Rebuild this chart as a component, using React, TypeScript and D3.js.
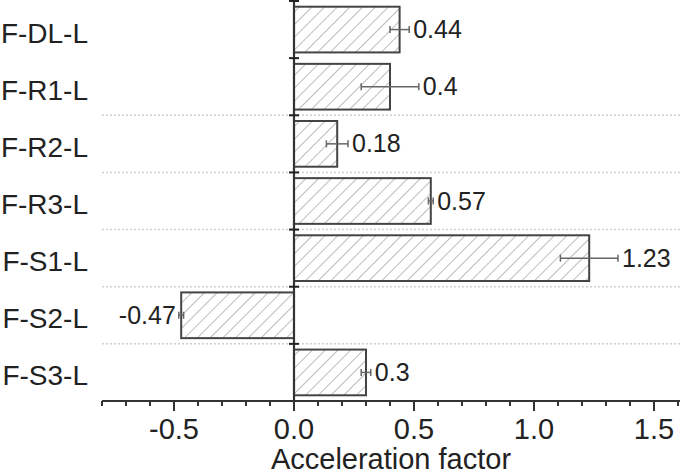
import React from "react";
import * as d3 from "d3";

const categories = ["F-DL-L", "F-R1-L", "F-R2-L", "F-R3-L", "F-S1-L", "F-S2-L", "F-S3-L"];
const values = [0.44, 0.4, 0.18, 0.57, 1.23, -0.47, 0.3];
const errors = [0.04, 0.12, 0.045, 0.01, 0.12, 0.01, 0.02];
const valueLabels = ["0.44", "0.4", "0.18", "0.57", "1.23", "-0.47", "0.3"];
const majorTicks = [-0.5, 0.0, 0.5, 1.0, 1.5];
const majorTickLabels = ["-0.5", "0.0", "0.5", "1.0", "1.5"];
const xTitle = "Acceleration factor";

const W = 680;
const H = 476;
const FONT = "'Liberation Sans', Arial, sans-serif";

export default function App() {
  const x = d3.scaleLinear().domain([-0.8, 1.6]).range([102, 678]);
  const y = d3.scaleBand<string>().domain(categories).range([1, 401]).paddingInner(0.2).paddingOuter(0.1);
  const step = y.step();
  const bandTop = (i: number) => 1 + i * step;
  const boundaries = d3.range(categories.length + 1).map(bandTop);
  const minorTicks = d3.range(-8, 17).map((k) => k / 10);
  const x0 = x(0);
  const axisY = 401;

  return (
    <svg
      width={W}
      height={H}
      style={{ position: "absolute", left: 0, top: 0, background: "#fff" }}
      fontFamily={FONT}
    >
      <defs>
        <pattern id="hatch" patternUnits="userSpaceOnUse" width={9} height={9} patternTransform="rotate(45)">
          <rect width={9} height={9} fill="#fff" />
          <line x1={0} y1={0} x2={0} y2={9} stroke="#9a9a9a" strokeWidth={1.3} />
        </pattern>
      </defs>

      {/* dotted gridlines */}
      {boundaries.slice(2, categories.length).map((b, i) => (
        <line key={"g" + i} x1={102} x2={680} y1={b} y2={b} stroke="#d0d0d0" strokeWidth={1.5} strokeDasharray="2,2" />
      ))}

      {/* bars */}
      {categories.map((c, i) => {
        const v = values[i];
        const x1 = Math.min(x(0), x(v));
        const w = Math.abs(x(v) - x(0));
        return (
          <rect key={"b" + c} x={x1} y={y(c)!} width={w} height={y.bandwidth()} fill="url(#hatch)" stroke="#444" strokeWidth={2} />
        );
      })}

      {/* error bars */}
      {categories.map((c, i) => {
        const v = values[i];
        const e = errors[i];
        const cy = y(c)! + y.bandwidth() / 2;
        const lo = x(v - e);
        const hi = x(v + e);
        return (
          <g key={"e" + c} stroke="#666" strokeWidth={1.5}>
            <line x1={lo} x2={hi} y1={cy} y2={cy} />
            <line x1={lo} x2={lo} y1={cy - 3.5} y2={cy + 3.5} />
            <line x1={hi} x2={hi} y1={cy - 3.5} y2={cy + 3.5} />
          </g>
        );
      })}

      {/* value labels */}
      {categories.map((c, i) => {
        const v = values[i];
        const e = errors[i];
        const cy = y(c)! + y.bandwidth() / 2;
        const neg = v < 0;
        return (
          <text
            key={"v" + c}
            x={neg ? x(v - e) - 3 : x(v + e) + 4}
            y={cy + 8.5}
            fontSize={25}
            fill="#222"
            textAnchor={neg ? "end" : "start"}
          >
            {valueLabels[i]}
          </text>
        );
      })}

      {/* y axis */}
      <line x1={x0} x2={x0} y1={0} y2={axisY} stroke="#333" strokeWidth={2.2} />
      {boundaries.map((b, i) => (
        <line key={"yt" + i} x1={x0 - 5} x2={x0 + 5} y1={b} y2={b} stroke="#222" strokeWidth={2} />
      ))}
      {categories.map((c) => (
        <text key={"c" + c} x={88} y={y(c)! + y.bandwidth() / 2 + 13} fontSize={28} fill="#222" textAnchor="end">
          {c}
        </text>
      ))}

      {/* x axis */}
      <line x1={102} x2={680} y1={axisY} y2={axisY} stroke="#333" strokeWidth={2.2} />
      {minorTicks.map((t, i) => (
        <line key={"mt" + i} x1={x(t)} x2={x(t)} y1={axisY} y2={axisY + 5} stroke="#333" strokeWidth={2} />
      ))}
      {majorTicks.map((t, i) => (
        <g key={"Mt" + i}>
          <line x1={x(t)} x2={x(t)} y1={axisY} y2={axisY + 10} stroke="#333" strokeWidth={2} />
          <text x={x(t)} y={439} fontSize={29} fill="#222" textAnchor="middle">
            {majorTickLabels[i]}
          </text>
        </g>
      ))}
      <text x={(102 + 680) / 2} y={469} fontSize={29} fill="#222" textAnchor="middle">
        {xTitle}
      </text>
    </svg>
  );
}
